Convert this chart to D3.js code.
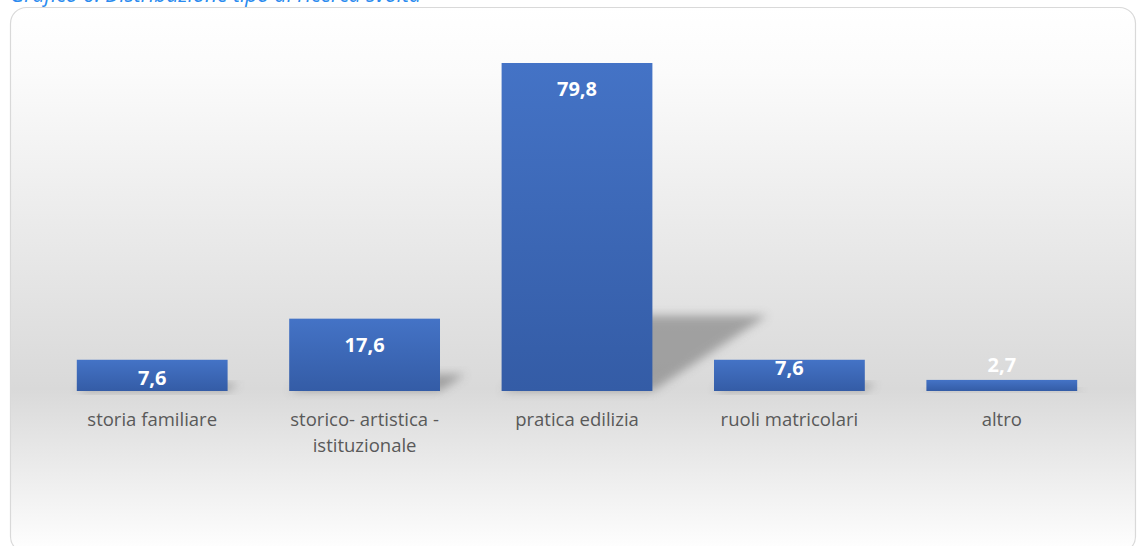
<!DOCTYPE html>
<html>
<head>
<meta charset="utf-8">
<script src="https://cdn.jsdelivr.net/npm/d3@7"></script>
<style>
  body { margin: 0; background: #fff; }
  svg { display: block; }
</style>
</head>
<body>
<div id="chart"></div>
<script>
const categories = ["storia familiare", "storico- artistica - istituzionale", "pratica edilizia", "ruoli matricolari", "altro"]
const labelLines = [["storia familiare"], ["storico- artistica -", "istituzionale"], ["pratica edilizia"], ["ruoli matricolari"], ["altro"]]
const values = [7.6, 17.6, 79.8, 7.6, 2.7]
const valueLabels = ["7,6", "17,6", "79,8", "7,6", "2,7"]

const width = 1137, height = 546
const base = 391

let svg = d3.select("#chart")
    .append("svg")
    .attr("width", width)
    .attr("height", height)

let defs = svg.append("defs")

let bg = defs.append("linearGradient")
    .attr("id", "bg")
    .attr("x1", 0).attr("y1", 0).attr("x2", 0).attr("y2", 1)
bg.append("stop").attr("offset", "0%").attr("stop-color", "#ffffff")
bg.append("stop").attr("offset", "12%").attr("stop-color", "#fbfbfb")
bg.append("stop").attr("offset", "70%").attr("stop-color", "#d9d9d9")
bg.append("stop").attr("offset", "100%").attr("stop-color", "#ffffff")

let barGrad = defs.append("linearGradient")
    .attr("id", "barGrad")
    .attr("x1", 0).attr("y1", 0).attr("x2", 0).attr("y2", 1)
barGrad.append("stop").attr("offset", "0%").attr("stop-color", "#4473c6")
barGrad.append("stop").attr("offset", "100%").attr("stop-color", "#345ca6")

defs.append("filter")
    .attr("id", "blur")
    .attr("x", "-50%").attr("y", "-50%").attr("width", "200%").attr("height", "200%")
    .append("feGaussianBlur")
    .attr("stdDeviation", 5)

// title, mostly cut off at the top (as in the source)
svg.append("text")
    .attr("x", 10)
    .attr("y", 2)
    .text("Grafico 6: Distribuzione tipo di ricerca svolta")
    .style("font-family", "Open Sans")
    .style("font-style", "italic")
    .style("font-size", "21px")
    .style("fill", "#2a8bef")

// chart area frame
svg.append("rect")
    .attr("x", 10.5)
    .attr("y", 7.5)
    .attr("width", 1125)
    .attr("height", 545)
    .attr("rx", 16)
    .attr("fill", "url(#bg)")
    .attr("stroke", "#d9d9d9")
    .attr("stroke-width", 1.2)

let x = d3.scaleBand()
    .domain(categories)
    .range([46, 1108])
    .paddingInner(0.29)
    .paddingOuter(0.145)

let y = d3.scaleLinear()
    .domain([0, 79.8])
    .range([base, 63])

let data = categories.map((c, i) => ({cat: c, v: values[i], label: valueLabels[i], lines: labelLines[i]}))

// perspective shadows
svg.append("g")
    .selectAll("path")
    .data(data)
    .enter()
    .append("path")
    .attr("d", function(d) {
        let h = base - y(d.v)
        let x0 = x(d.cat), x1 = x0 + x.bandwidth()
        let dx = h * 0.35, dy = h * 0.23
        return `M${x0},${base} L${x1},${base} L${x1 + dx},${base - dy} L${x0 + dx},${base - dy} Z`
    })
    .attr("fill", "#8c8c8c")
    .attr("opacity", 0.75)
    .attr("filter", "url(#blur)")

svg.append("g")
    .selectAll("rect")
    .data(data)
    .enter()
    .append("rect")
    .attr("x", d => x(d.cat))
    .attr("y", d => y(d.v))
    .attr("width", x.bandwidth())
    .attr("height", d => base - y(d.v))
    .attr("fill", "url(#barGrad)")

svg.append("g")
    .selectAll("text")
    .data(data)
    .enter()
    .append("text")
    .attr("x", d => x(d.cat) + x.bandwidth() / 2)
    .attr("y", function(d, i) {
        let top = y(d.v)
        if (base - top < 20) return top - 8
        if (i === 3) return base - 16
        return Math.min(top + 33, base - 6)
    })
    .attr("text-anchor", "middle")
    .text(d => d.label)
    .style("font-family", "Open Sans")
    .style("font-weight", "bold")
    .style("font-size", "20px")
    .style("fill", "#ffffff")

let cat = svg.append("g")
    .selectAll("text")
    .data(data)
    .enter()
    .append("text")
    .attr("x", d => x(d.cat) + x.bandwidth() / 2)
    .attr("y", 426)
    .attr("text-anchor", "middle")
    .style("font-family", "Open Sans")
    .style("font-size", "18.5px")
    .style("fill", "#595959")

cat.selectAll("tspan")
    .data(d => d.lines.map(l => ({l: l, cx: x(d.cat) + x.bandwidth() / 2})))
    .enter()
    .append("tspan")
    .attr("x", d => d.cx)
    .attr("dy", (d, i) => i === 0 ? 0 : 26)
    .text(d => d.l)
</script>
</body>
</html>
